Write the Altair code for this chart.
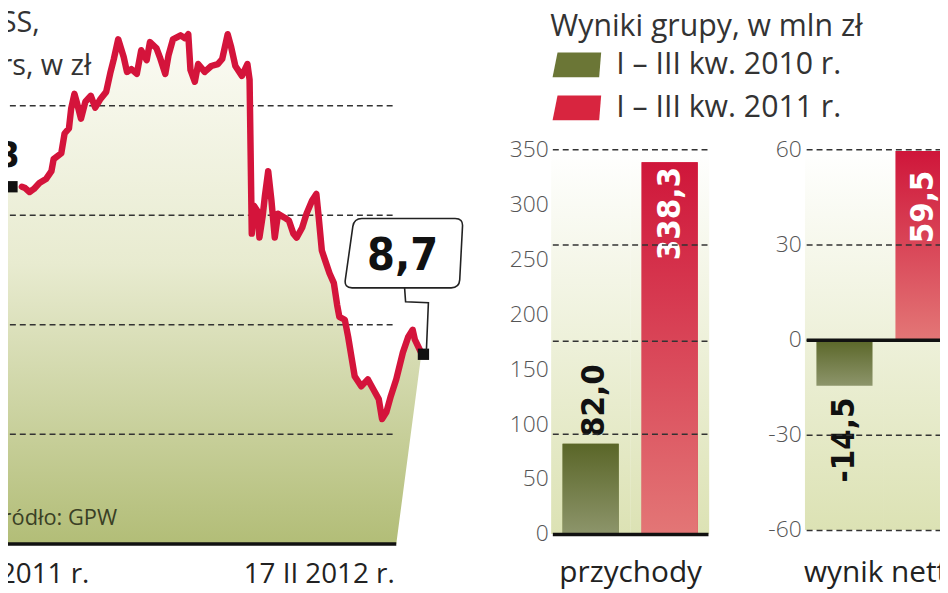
import altair as alt
import pandas as pd

# ---------------- data ----------------
price_dates = [
    "2011-02-17", "2011-02-20", "2011-02-24", "2011-02-28", "2011-03-05", "2011-03-11",
    "2011-03-16", "2011-03-18", "2011-03-25", "2011-03-28", "2011-04-01", "2011-04-03",
    "2011-04-06", "2011-04-08", "2011-04-12", "2011-04-16", "2011-04-21", "2011-04-25",
    "2011-04-30", "2011-05-05", "2011-05-09", "2011-05-12", "2011-05-16", "2011-05-21",
    "2011-05-24", "2011-05-28", "2011-06-02", "2011-06-06", "2011-06-11", "2011-06-14",
    "2011-06-20", "2011-06-23", "2011-06-28", "2011-07-01", "2011-07-05", "2011-07-12",
    "2011-07-16", "2011-07-19", "2011-07-21", "2011-07-25", "2011-07-28", "2011-08-03",
    "2011-08-09", "2011-08-15", "2011-08-19", "2011-08-24", "2011-08-27", "2011-08-31",
    "2011-09-06", "2011-09-11", "2011-09-13", "2011-09-15", "2011-09-17", "2011-09-20",
    "2011-09-22", "2011-09-25", "2011-09-27", "2011-09-30", "2011-10-03", "2011-10-06",
    "2011-10-09", "2011-10-15", "2011-10-19", "2011-10-23", "2011-10-26", "2011-10-31",
    "2011-11-04", "2011-11-09", "2011-11-13", "2011-11-15", "2011-11-18", "2011-11-21",
    "2011-11-25", "2011-11-29", "2011-12-02", "2011-12-04", "2011-12-09", "2011-12-12",
    "2011-12-15", "2011-12-18", "2011-12-24", "2011-12-30", "2012-01-04", "2012-01-09",
    "2012-01-12", "2012-01-16", "2012-01-20", "2012-01-25", "2012-01-31", "2012-02-05",
    "2012-02-09", "2012-02-11", "2012-02-17",
]
price_values = [
    16.3, 16.24, 16.06, 16.2, 16.47, 16.65,
    17.01, 17.56, 17.83, 18.73, 18.96, 19.86,
    20.54, 20.18, 19.41, 20.18, 20.45, 19.91,
    20.32, 20.63, 21.54, 22.13, 23.03, 22.22,
    21.54, 21.67, 21.45, 22.53, 22.08, 22.9,
    22.62, 22.22, 21.45, 22.31, 23.03, 23.21,
    23.08, 23.26, 21.63, 21.09, 21.9, 21.54,
    21.81, 21.9, 22.13, 23.26, 22.71, 21.81,
    21.36, 21.9, 21.18, 14.16, 15.43, 15.2,
    13.98, 14.98, 15.88, 17.01, 15.66, 13.98,
    15.07, 14.89, 14.75, 14.16, 13.98, 14.43,
    15.07, 15.66, 15.97, 14.98, 13.39, 12.94,
    12.35, 11.9, 10.9, 10.36, 10.23, 9.46,
    8.55, 7.65, 7.19, 7.51, 7.06, 6.61,
    5.7, 6.02, 6.74, 7.51, 8.73, 9.46,
    9.77, 9.32, 8.7,
]
frame_dates = ["2011-01-28", "2012-01-25"]       # extent of the drawn time frame
price_grid = [5, 10, 15, 20]
date_label_dates = ["2011-02-17", "2012-02-17"]
date_labels = ["17 II 2011 r.", "17 II 2012 r."]
title_lines = ["SS,", "kurs, w zł"]
source_text = "Źródło: GPW"

periods = ["I – III kw. 2010 r.", "I – III kw. 2011 r."]
revenue = [82.0, 338.3]
net_result = [-14.5, 59.5]
revenue_ticks = [0, 50, 100, 150, 200, 250, 300, 350]
revenue_grid = [91, 176, 263, 350]
net_ticks = [-60, -30, 0, 30, 60]
panel_titles = ["przychody", "wynik netto"]
legend_title = "Wyniki grupy, w mln zł"

# ---------------- styles ----------------
FONT = "Open Sans"
BOLD = "'Liberation Sans Narrow', 'DejaVu Sans Condensed', Roboto, sans-serif"
RED = "#d4143b"
GREEN_SOLID = "#6b7636"
RED_SOLID = "#d8253f"
GRID = "#333333"
DASH = [6, 4]


def vgrad(stops):
    return alt.Gradient(
        gradient="linear", x1=0, x2=0, y1=0, y2=1,
        stops=[alt.GradientStop(color=c, offset=o) for o, c in stops],
    )


AREA_FILL = vgrad([(0, "#fbfbf4"), (0.45, "#e8ebd0"), (1, "#b2bd77")])
PANEL_FILL = vgrad([(0, "#ffffff"), (1, "#dce2b4")])
GREEN_FILL = vgrad([(0, "#5a6628"), (1, "#8d956b")])
RED_FILL = vgrad([(0, "#cf163a"), (1, "#e37676")])


def pl(v):
    return f"{v:.1f}".replace(".", ",")


# ---------------- left panel: share price ----------------
price = pd.DataFrame({"date": pd.to_datetime(price_dates), "value": price_values})
t0, t1 = pd.to_datetime(frame_dates)
t_end, v_end = price.date.iloc[-1], price.value.iloc[-1]
frac = ((price.date - t1) / (t_end - t1)).clip(lower=0)
area_df = pd.concat([
    pd.DataFrame({"date": [t0], "top": [price.value.iloc[0]], "bottom": [0.0]}),
    pd.DataFrame({"date": price.date, "top": price.value, "bottom": v_end * frac}),
], ignore_index=True)
grid_df = pd.DataFrame({"v": price_grid, "start": t0, "end": t1})
base_df = pd.DataFrame({"v": [0], "start": [t0], "end": [t1]})
first = price.iloc[[0]].assign(label=pl(price.value.iloc[0]), l1=title_lines[0], l2=title_lines[1])
last = price.iloc[[-1]].assign(label=pl(v_end))
src_df = pd.DataFrame({"date": [price.date.iloc[0]], "value": [0], "label": [source_text]})
dl_df = pd.DataFrame({"date": pd.to_datetime(date_label_dates), "value": 0, "label": date_labels})

xs = alt.Scale(domain=[alt.DateTime(year=2011, month=2, date=17),
                       alt.DateTime(year=2012, month=2, date=17)], range=[14, 417])
ys = alt.Scale(domain=[0, 20], range=[538, 96], nice=False)


def LX(f):
    return alt.X(f"{f}:T", scale=xs, axis=None)


def LY(f):
    return alt.Y(f"{f}:Q", scale=ys, axis=None)


area = alt.Chart(area_df).mark_area(color=AREA_FILL, interpolate="linear").encode(
    x=LX("date"), y=LY("top"), y2="bottom:Q")
grid = alt.Chart(grid_df).mark_rule(color=GRID, strokeDash=DASH, strokeWidth=1.5).encode(
    x=LX("start"), x2="end:T", y=LY("v"))
baseline = alt.Chart(base_df).mark_rule(color="#111", strokeWidth=3.5).encode(
    x=LX("start"), x2="end:T", y=LY("v"))
line = alt.Chart(price).mark_line(color=RED, strokeWidth=6.5, strokeJoin="round", strokeCap="round").encode(
    x=LX("date"), y=LY("value"))
sq_start = alt.Chart(first).mark_point(shape="square", size=130, filled=True, color="#111", opacity=1, xOffset=-10).encode(
    x=LX("date"), y=LY("value"))
sq_end = alt.Chart(last).mark_point(shape="square", size=130, filled=True, color="#111", opacity=1, xOffset=2, yOffset=1).encode(
    x=LX("date"), y=LY("value"))
BOX = ("M -60 -136 L 34 -136 Q 42 -136 41.4 -128 L 38.6 -74 Q 38 -66 30 -66 "
       "L -70 -66 Q -78 -66 -76.8 -74 L -69.2 -128 Q -68 -136 -60 -136 Z")
CONN = "M -17 -66 L -16 -52 L 7 -51 L 5 -3"
conn = alt.Chart(last).mark_point(shape=CONN, size=4, filled=False, stroke="#222", strokeWidth=1.6, opacity=1).encode(
    x=LX("date"), y=LY("value"))
box = alt.Chart(last).mark_point(shape=BOX, size=4, filled=True, fill="white", stroke="#222", strokeWidth=1.6, opacity=1).encode(
    x=LX("date"), y=LY("value"))
end_txt = alt.Chart(last).mark_text(font=BOLD, fontWeight="bold", fontSize=45, color="#111",
                                    align="center", baseline="alphabetic", dx=-19, dy=-84).encode(
    x=LX("date"), y=LY("value"), text="label:N")
start_txt = alt.Chart(first).mark_text(font=BOLD, fontWeight="bold", fontSize=36, color="#111",
                                       align="right", baseline="alphabetic", dx=-2, dy=-20).encode(
    x=LX("date"), y=LY("value"), text="label:N")
t1_txt = alt.Chart(first).mark_text(font=FONT, fontSize=29, color="#333", align="right",
                                    baseline="alphabetic", dx=18, dy=-156).encode(
    x=LX("date"), y=LY("value"), text="l1:N")
t2_txt = alt.Chart(first).mark_text(font=FONT, fontSize=29, color="#333", align="right",
                                    baseline="alphabetic", dx=70, dy=-113).encode(
    x=LX("date"), y=LY("value"), text="l2:N")
src_txt = alt.Chart(src_df).mark_text(font=FONT, fontSize=22, color="#3a3f25", align="right",
                                      baseline="alphabetic", dx=96, dy=-19).encode(
    x=LX("date"), y=LY("value"), text="label:N")
d1_txt = alt.Chart(dl_df.iloc[[0]]).mark_text(font=FONT, fontSize=28, color="#222", align="right",
                                             baseline="alphabetic", dx=68, dy=39).encode(
    x=LX("date"), y=LY("value"), text="label:N")
d2_txt = alt.Chart(dl_df.iloc[[1]]).mark_text(font=FONT, fontSize=28, color="#222", align="right",
                                             baseline="alphabetic", dx=-27, dy=39).encode(
    x=LX("date"), y=LY("value"), text="label:N")

left = alt.layer(area, grid, baseline, line, sq_start, sq_end, conn, box, end_txt,
                 start_txt, t1_txt, t2_txt, src_txt, d1_txt, d2_txt)

# ---------------- bar panels ----------------
bars = pd.DataFrame({"okres": periods, "przychody": revenue, "wynik": net_result})
bars["p_txt"] = [pl(v) for v in revenue]
bars["w_txt"] = [pl(v) for v in net_result]
bg = pd.DataFrame({"okres": periods,
                   "rev_top": max(revenue_ticks), "rev_bottom": min(revenue_ticks),
                   "net_top": max(net_ticks), "net_bottom": min(net_ticks)})

PAD_IN, PAD_OUT = 0.29, 0.13
TILE = alt.RelativeBandSize(band=1 / (1 - PAD_IN))
px_scale = alt.Scale(domain=periods, range=[549, 706], paddingInner=PAD_IN, paddingOuter=PAD_OUT)
wx_scale = alt.Scale(domain=periods, range=[805, 962], paddingInner=PAD_IN, paddingOuter=PAD_OUT)
py_scale = alt.Scale(domain=[0, 350], range=[528, 140], nice=False)
wy_scale = alt.Scale(domain=[-60, 60], range=[524, 140], nice=False)

grid_axis = dict(orient="left", grid=True, ticks=False, domain=False, title=None,
                 gridDash=DASH, gridColor=GRID, gridWidth=1.5, zindex=1)

p0 = alt.Chart(bg).mark_bar(color=PANEL_FILL, width=TILE).encode(
    x=alt.X("okres:N", scale=px_scale, axis=None),
    y=alt.Y("rev_top:Q", scale=py_scale,
            axis=alt.Axis(values=revenue_grid, labels=False, **grid_axis)),
    y2="rev_bottom:Q")

p_x = alt.X("okres:N", scale=px_scale,
            axis=alt.Axis(orient="bottom", offset=-57, labels=False, ticks=False, grid=False,
                          domain=True, domainColor="#111", domainWidth=3.5,
                          title=panel_titles[0], titlePadding=24, zindex=1))
p_y = alt.Y("przychody:Q", scale=py_scale,
            axis=alt.Axis(orient="left", offset=-549, values=revenue_ticks, ticks=False,
                          domain=False, grid=False, labelPadding=4, title=None))

legend = alt.Legend(
    orient="none", legendX=547, legendY=2, padding=0,
    title=legend_title, titleFont=FONT, titleFontSize=30.5, titleFontWeight="normal",
    titleColor="#333", titlePadding=7, titleLimit=600,
    labelFont=FONT, labelFontSize=30.5, labelColor="#333", labelLimit=600, labelOffset=36,
    symbolType="M -8 -12.5 L 36 -12.5 L 34 12.5 L -13 12.5 Z", symbolSize=4,
    symbolStrokeWidth=0, symbolOpacity=1, rowPadding=12.5,
)

p_solid = alt.Chart(bars).mark_bar().encode(
    x=p_x, y=p_y,
    color=alt.Color("okres:N", scale=alt.Scale(domain=periods, range=[GREEN_SOLID, RED_SOLID]),
                    legend=legend))
p_green = alt.Chart(bars).transform_filter(alt.datum.okres == periods[0]).mark_bar(color=GREEN_FILL).encode(x=p_x, y=p_y)
p_red = alt.Chart(bars).transform_filter(alt.datum.okres == periods[1]).mark_bar(color=RED_FILL).encode(x=p_x, y=p_y)
p_t_green = alt.Chart(bars).transform_filter(alt.datum.okres == periods[0]).mark_text(
    angle=270, align="left", baseline="middle", dx=7, dy=3, font=BOLD, fontWeight="bold",
    fontSize=33, color="#111").encode(x=p_x, y=p_y, text="p_txt:N")
p_t_red = alt.Chart(bars).transform_filter(alt.datum.okres == periods[1]).mark_text(
    angle=270, align="right", baseline="middle", dx=-5, font=BOLD, fontWeight="bold",
    fontSize=33, color="white").encode(x=p_x, y=p_y, text="p_txt:N")
p1 = alt.layer(p_solid, p_green, p_red, p_t_green, p_t_red)

w0 = alt.Chart(bg).mark_bar(color=PANEL_FILL, width=TILE).encode(
    x=alt.X("okres:N", scale=wx_scale, axis=None),
    y=alt.Y("net_top:Q", scale=wy_scale,
            axis=alt.Axis(values=net_ticks, labels=True, offset=-805, labelPadding=5,
                          labelExpr="'' + datum.value", **grid_axis)),
    y2="net_bottom:Q")

w_x = alt.X("okres:N", scale=wx_scale,
            axis=alt.Axis(orient="bottom", offset=-253, labels=False, ticks=False, grid=False,
                          domain=True, domainColor="#111", domainWidth=3.5,
                          title=panel_titles[1], titlePadding=220, zindex=1))
w_y = alt.Y("wynik:Q", scale=wy_scale, axis=None)
w_green = alt.Chart(bars).transform_filter(alt.datum.okres == periods[0]).mark_bar(color=GREEN_FILL).encode(x=w_x, y=w_y)
w_red = alt.Chart(bars).transform_filter(alt.datum.okres == periods[1]).mark_bar(color=RED_FILL).encode(x=w_x, y=w_y)
w_t_green = alt.Chart(bars).transform_filter(alt.datum.okres == periods[0]).mark_text(
    angle=270, align="right", baseline="middle", dx=-12, font=BOLD, fontWeight="bold",
    fontSize=33, color="#111").encode(x=w_x, y=w_y, text="w_txt:N")
w_t_red = alt.Chart(bars).transform_filter(alt.datum.okres == periods[1]).mark_text(
    angle=270, align="right", baseline="middle", dx=-20, font=BOLD, fontWeight="bold",
    fontSize=33, color="white").encode(x=w_x, y=w_y, text="w_txt:N")
w1 = alt.layer(w_green, w_red, w_t_green, w_t_red)

chart = (
    alt.layer(left, p0, p1, w0, w1)
    .resolve_scale(x="independent", y="independent")
    .properties(width=940, height=585, padding=0,
                autosize=alt.AutoSizeParams(type="none"), background="white")
    .configure_view(stroke=None)
    .configure_axis(labelFont=FONT, labelFontSize=23, labelColor="#555", labelFontWeight=300,
                    titleFont=FONT, titleFontSize=30, titleFontWeight="normal", titleColor="#222")
)

chart.save("out.html", embed_options={"renderer": "svg", "actions": False})
